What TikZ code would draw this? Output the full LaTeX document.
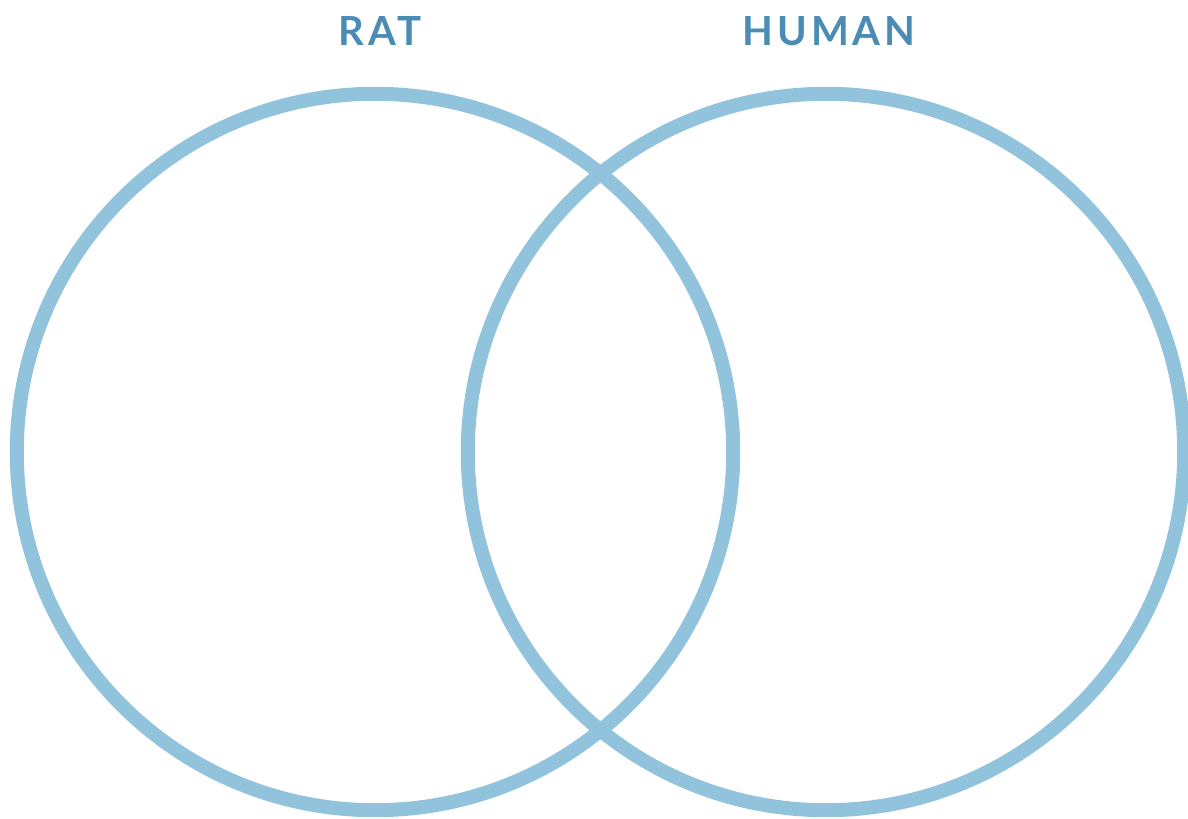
\documentclass[tikz,border=0pt]{standalone}
\usepackage{fontspec}
\setmainfont{Lato}
\newfontfamily\titlefont[LetterSpace=10]{Lato Bold}
\definecolor{vennblue}{RGB}{145,195,220}
\definecolor{titleblue}{RGB}{74,140,180}
\usetikzlibrary{positioning}
\tikzset{
  setcircle/.style={draw=vennblue,line width=0.14cm,circle,minimum size=7.16cm,inner sep=0pt},
  settitle/.style={text=titleblue,font=\titlefont\fontsize{11.4}{14}\selectfont,inner sep=0pt}
}
\begin{document}
\begin{tikzpicture}[x=0.01cm,y=-0.01cm]
  \useasboundingbox (0,0) rectangle (1188,819);
  \node[setcircle] (rat) at (375,452) {};
  \node[setcircle] (human) at (826,452) {};
  \node[settitle] (rattitle) at (380,31) {RAT};
  \node[settitle] (humantitle) at (829,31) {HUMAN};
\end{tikzpicture}
\end{document}
